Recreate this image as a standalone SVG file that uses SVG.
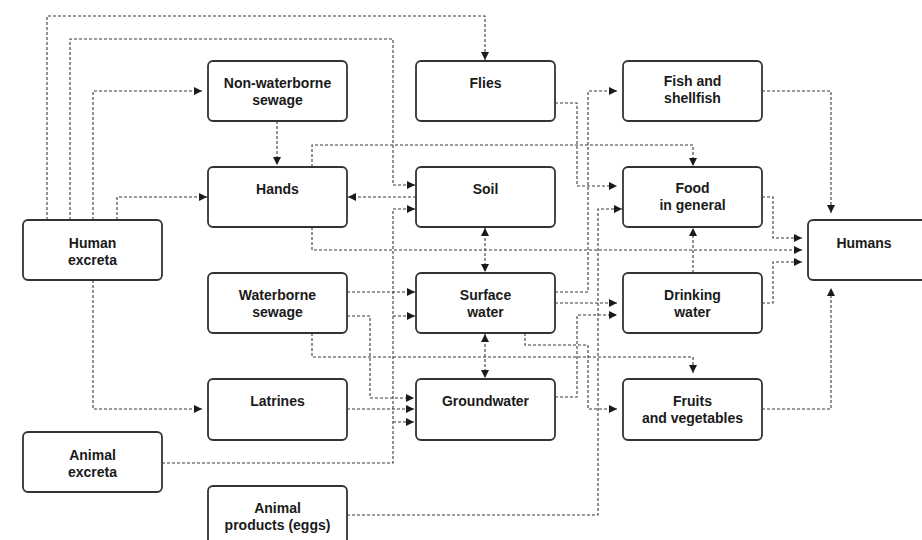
<svg xmlns="http://www.w3.org/2000/svg" width="922" height="540" viewBox="0 0 922 540">
  <style>
    .box { fill: #ffffff; stroke: #333333; stroke-width: 1.8; }
    .lbl { font-family: "Liberation Sans", Arial, Helvetica, sans-serif; font-size: 14px; font-weight: bold; fill: #1a1a1a; text-anchor: middle; }
    .link { fill: none; stroke: #3a3a3a; stroke-width: 1.1; stroke-dasharray: 3 2; }
    .arr { marker-end: url(#head); }
    .both { marker-start: url(#head); marker-end: url(#head); }
  </style>
  <defs>
    <marker id="head" viewBox="0 0 8 8" refX="8" refY="4" markerWidth="8" markerHeight="8" markerUnits="userSpaceOnUse" orient="auto-start-reverse">
      <path d="M0,0 L8,4 L0,8 Z" fill="#1a1a1a"/>
    </marker>
  </defs>

  <rect width="922" height="540" fill="#ffffff"/>

  <!-- connectors -->
  <g id="connectors">
    <!-- human excreta routes -->
    <path class="link arr" d="M47,220 V16 H485 V60"/>
    <path class="link arr" d="M70,220 V39 H393 V185 H415"/>
    <path class="link arr" d="M93,220 V91 H202"/>
    <path class="link arr" d="M117,220 V197 H207"/>
    <path class="link arr" d="M93,280 V409 H202"/>
    <!-- sewage and hands -->
    <path class="link arr" d="M277,121 V165"/>
    <path class="link arr" d="M416,197 H348"/>
    <path class="link arr" d="M312,227 V250 H802"/>
    <path class="link arr" d="M312,167 V145 H693 V166"/>
    <!-- flies -->
    <path class="link arr" d="M555,103 H577 V186 H617"/>
    <!-- surface water outputs -->
    <path class="link arr" d="M555,292 H588 V91 H617"/>
    <path class="link arr" d="M555,303 H617"/>
    <path class="link arr" d="M525,333 V345 H588 V409 H617"/>
    <!-- animal products -->
    <path class="link arr" d="M347,515 H598 V209 H622"/>
    <!-- waterborne sewage -->
    <path class="link arr" d="M312,333 V357 H693 V373"/>
    <path class="link arr" d="M347,292 H415"/>
    <path class="link arr" d="M347,316 H370 V398 H414"/>
    <!-- two-way exchanges -->
    <path class="link both" d="M485,228 V272"/>
    <path class="link both" d="M485,334 V378"/>
    <!-- animal excreta -->
    <path class="link arr" d="M162,463 H393 V209 H415"/>
    <path class="link arr" d="M393,316 H415"/>
    <path class="link arr" d="M393,422 H414"/>
    <!-- latrines and groundwater -->
    <path class="link arr" d="M347,409 H414"/>
    <path class="link arr" d="M555,397 H577 V315 H617"/>
    <!-- routes to humans -->
    <path class="link arr" d="M762,197 H773 V238 H802"/>
    <path class="link arr" d="M762,303 H773 V262 H802"/>
    <path class="link arr" d="M693,273 V228"/>
    <path class="link arr" d="M762,91 H831 V213"/>
    <path class="link arr" d="M762,409 H831 V288"/>
  </g>

  <!-- nodes -->
  <g id="human-excreta">
    <rect class="box" x="23" y="220" width="139" height="60" rx="5"/>
    <text class="lbl" x="92.5" y="248">Human</text>
    <text class="lbl" x="92.5" y="265">excreta</text>
  </g>
  <g id="animal-excreta">
    <rect class="box" x="23" y="432" width="139" height="60" rx="5"/>
    <text class="lbl" x="92.5" y="460">Animal</text>
    <text class="lbl" x="92.5" y="477">excreta</text>
  </g>
  <g id="non-waterborne-sewage">
    <rect class="box" x="208" y="61" width="139" height="60" rx="5"/>
    <text class="lbl" x="277.5" y="88">Non-waterborne</text>
    <text class="lbl" x="277.5" y="105">sewage</text>
  </g>
  <g id="hands">
    <rect class="box" x="208" y="167" width="139" height="60" rx="5"/>
    <text class="lbl" x="277.5" y="194">Hands</text>
  </g>
  <g id="waterborne-sewage">
    <rect class="box" x="208" y="273" width="139" height="60" rx="5"/>
    <text class="lbl" x="277.5" y="300">Waterborne</text>
    <text class="lbl" x="277.5" y="317">sewage</text>
  </g>
  <g id="latrines">
    <rect class="box" x="208" y="379" width="139" height="61" rx="5"/>
    <text class="lbl" x="277.5" y="406">Latrines</text>
  </g>
  <g id="animal-products">
    <rect class="box" x="208" y="486" width="139" height="60" rx="5"/>
    <text class="lbl" x="277.5" y="513">Animal</text>
    <text class="lbl" x="277.5" y="530">products (eggs)</text>
  </g>
  <g id="flies">
    <rect class="box" x="416" y="61" width="139" height="60" rx="5"/>
    <text class="lbl" x="485.5" y="88">Flies</text>
  </g>
  <g id="soil">
    <rect class="box" x="416" y="167" width="139" height="60" rx="5"/>
    <text class="lbl" x="485.5" y="194">Soil</text>
  </g>
  <g id="surface-water">
    <rect class="box" x="416" y="273" width="139" height="60" rx="5"/>
    <text class="lbl" x="485.5" y="300">Surface</text>
    <text class="lbl" x="485.5" y="317">water</text>
  </g>
  <g id="groundwater">
    <rect class="box" x="416" y="379" width="139" height="61" rx="5"/>
    <text class="lbl" x="485.5" y="406">Groundwater</text>
  </g>
  <g id="fish-and-shellfish">
    <rect class="box" x="623" y="61" width="139" height="60" rx="5"/>
    <text class="lbl" x="692.5" y="86">Fish and</text>
    <text class="lbl" x="692.5" y="103">shellfish</text>
  </g>
  <g id="food-in-general">
    <rect class="box" x="623" y="167" width="139" height="60" rx="5"/>
    <text class="lbl" x="692.5" y="193">Food</text>
    <text class="lbl" x="692.5" y="210">in general</text>
  </g>
  <g id="drinking-water">
    <rect class="box" x="623" y="273" width="139" height="60" rx="5"/>
    <text class="lbl" x="692.5" y="300">Drinking</text>
    <text class="lbl" x="692.5" y="317">water</text>
  </g>
  <g id="fruits-and-vegetables">
    <rect class="box" x="623" y="379" width="139" height="61" rx="5"/>
    <text class="lbl" x="692.5" y="406">Fruits</text>
    <text class="lbl" x="692.5" y="423">and vegetables</text>
  </g>
  <g id="humans">
    <rect class="box" x="808" y="220" width="139" height="60" rx="5"/>
    <text class="lbl" x="864" y="248">Humans</text>
  </g>
</svg>
